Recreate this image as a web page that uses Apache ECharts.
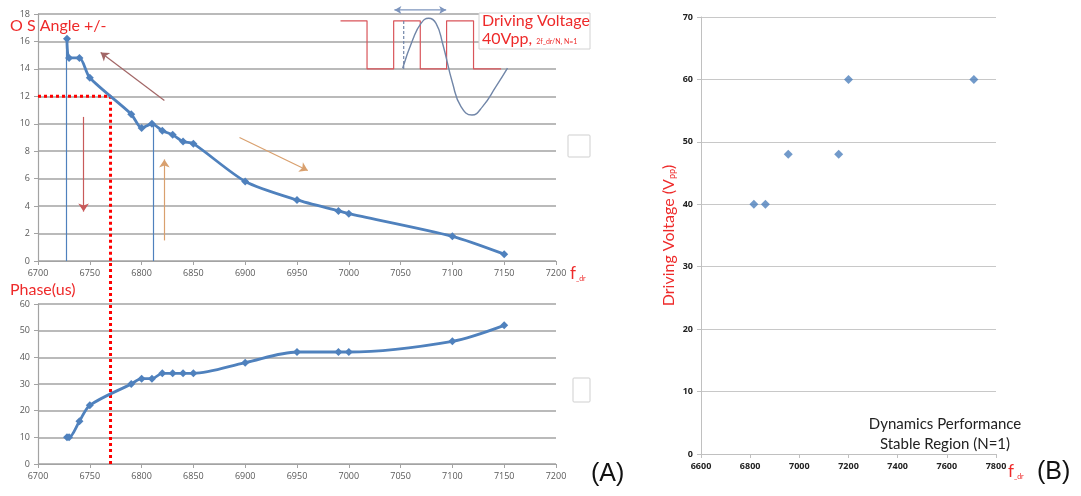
<!DOCTYPE html>
<html>
<head>
<meta charset="utf-8">
<script src="https://cdn.jsdelivr.net/npm/echarts@6/dist/echarts.min.js"></script>
<style>
html,body{margin:0;padding:0;background:#fff}
#main{width:1081px;height:496px}
</style>
</head>
<body>
<div id="main"></div>
<script>
// (A) O S angle and phase vs driving frequency
var freqA = [6728, 6730, 6740, 6750, 6790, 6800, 6810, 6820, 6830, 6840, 6850, 6900, 6950, 6990, 7000, 7100, 7150];
var angle = [16.2, 14.8, 14.8, 13.35, 10.7, 9.7, 10.0, 9.5, 9.2, 8.7, 8.55, 5.8, 4.45, 3.65, 3.45, 1.8, 0.5];
var phase = [10, 10, 16, 22, 30, 32, 32, 34, 34, 34, 34, 38, 42, 42, 42, 46, 52];
// (B) stable region
var freqB = [6815, 6862, 6955, 7160, 7200, 7710];
var voltB = [40, 40, 48, 48, 60, 60];
// inset sketch (drive square wave + response)
var squareX = [6992, 7017.6, 7017.6, 7043.3, 7043.3, 7069, 7069, 7094.4, 7094.4, 7120.4, 7120.4, 7147];
var squareY = [17.5, 17.5, 14, 14, 17.5, 17.5, 14, 14, 17.5, 17.5, 14, 14];
var sineX = [7052, 7061.6, 7069.7, 7077.1, 7084.2, 7090.5, 7100.2, 7108.3, 7118.9, 7129.1, 7142, 7153.2];
var sineY = [14.05, 16.1, 17.32, 17.69, 17.32, 15.87, 12.95, 11.25, 10.64, 11.25, 12.7, 14.05];
// operating point marked by the red dotted lines
var markFreq = 6770, markAngle = 12;

function zip(xs, ys) {
    return xs.map(function (x, i) { return [x, ys[i]]; });
}
function plain(v) { return String(v); }

var red = '#ee2a2a';
var blue = '#4f81bd';
var lblA = {fontSize: 9, color: '#595959', fontFamily: 'Open Sans', formatter: plain};
var lblB = {fontSize: 9, color: '#222', fontWeight: 'bold', fontFamily: 'Open Sans', formatter: plain};
var gridLineA = {lineStyle: {color: '#a3a3a3', width: 1.5}};
var axisLineA = {lineStyle: {color: '#a3a3a3', width: 1.2}};

function arrow(x1, y1, x2, y2, color, head) {
    return [
        {coord: [x1, y1], symbol: 'none', lineStyle: {color: color, width: 1.2, type: 'solid'}},
        {coord: [x2, y2], symbol: head ? 'arrow' : 'none'}
    ];
}

var myChart = echarts.init(document.getElementById('main'));
var option = {
    animation: false,
    backgroundColor: '#fff',
    grid: [
        {left: 38, top: 14, width: 518, height: 247},
        {left: 38, top: 304, width: 518, height: 160},
        {left: 701, top: 17, width: 295, height: 437}
    ],
    xAxis: [
        {gridIndex: 0, type: 'value', min: 6700, max: 7200, interval: 50,
            axisLine: axisLineA, axisTick: {show: true, length: 4, lineStyle: {color: '#a3a3a3'}},
            axisLabel: lblA, splitLine: {show: false}},
        {gridIndex: 1, type: 'value', min: 6700, max: 7200, interval: 50,
            axisLine: axisLineA, axisTick: {show: true, length: 4, lineStyle: {color: '#a3a3a3'}},
            axisLabel: lblA, splitLine: {show: false}},
        {gridIndex: 2, type: 'value', min: 6600, max: 7800, interval: 200,
            axisLine: {lineStyle: {color: '#c0c0c0'}}, axisTick: {show: true, length: 4, lineStyle: {color: '#c0c0c0'}},
            axisLabel: lblB, splitLine: {show: false}}
    ],
    yAxis: [
        {gridIndex: 0, type: 'value', min: 0, max: 18, interval: 2,
            axisLine: {show: true, lineStyle: {color: '#a3a3a3', width: 1.2}},
            axisTick: {show: true, length: 4, lineStyle: {color: '#a3a3a3'}},
            axisLabel: lblA, splitLine: gridLineA},
        {gridIndex: 1, type: 'value', min: 0, max: 60, interval: 10,
            axisLine: {show: true, lineStyle: {color: '#a3a3a3', width: 1.2}},
            axisTick: {show: true, length: 4, lineStyle: {color: '#a3a3a3'}},
            axisLabel: lblA, splitLine: gridLineA},
        {gridIndex: 2, type: 'value', min: 0, max: 70, interval: 10,
            axisLine: {show: true, lineStyle: {color: '#c0c0c0'}},
            axisTick: {show: true, length: 4, lineStyle: {color: '#c0c0c0'}},
            axisLabel: lblB,
            splitLine: {lineStyle: {color: '#c8c8c8', width: 1}},
            name: 'Driving Voltage (V{s|pp})',
            nameLocation: 'middle', nameRotate: 90, nameGap: 24,
            nameTextStyle: {color: red, fontSize: 16, fontFamily: 'Lato',
                rich: {s: {fontSize: 9, color: red, fontFamily: 'Lato', verticalAlign: 'bottom'}}}}
    ],
    series: [
        {
            name: 'angle', type: 'line', xAxisIndex: 0, yAxisIndex: 0,
            data: zip(freqA, angle), smooth: 0.25,
            symbol: 'diamond', symbolSize: 8,
            itemStyle: {color: blue}, lineStyle: {color: blue, width: 2.8},
            z: 5,
            markLine: {
                silent: true, animation: false, symbolSize: 8,
                label: {show: false},
                data: [
                    arrow(freqA[0] - 1, angle[0], freqA[0] - 1, 0, blue, false),
                    arrow(6811, 10, 6811, 0, blue, false),
                    arrow(6822, 11.7, 6760.5, 15.2, '#a26666', true),
                    arrow(6744, 10.5, 6744, 3.6, '#c85a5a', true),
                    arrow(6822, 1.5, 6822, 7.4, '#d9a06e', true),
                    arrow(6894.5, 9, 6960.4, 6.6, '#d9a06e', true)
                ]
            }
        },
        {
            name: 'mark top', type: 'line', xAxisIndex: 0, yAxisIndex: 0,
            data: [[6700, markAngle], [markFreq, markAngle], [markFreq, 0]],
            showSymbol: false, clip: false, z: 4,
            lineStyle: {color: '#ff0000', width: 3, type: [3, 3]}
        },
        {
            name: 'square', type: 'line', xAxisIndex: 0, yAxisIndex: 0,
            data: zip(squareX, squareY), showSymbol: false,
            lineStyle: {color: '#d9545a', width: 1.2}
        },
        {
            name: 'sine', type: 'line', xAxisIndex: 0, yAxisIndex: 0,
            data: zip(sineX, sineY), showSymbol: false, smooth: 0.5,
            lineStyle: {color: '#7186a8', width: 1.4}
        },
        {
            name: 'phase ref', type: 'line', xAxisIndex: 0, yAxisIndex: 0,
            data: [[7053, 14], [7053, 17.5]], showSymbol: false,
            lineStyle: {color: '#7186a8', width: 1.2, type: [3, 2]}
        },
        {
            name: 'period', type: 'line', xAxisIndex: 0, yAxisIndex: 0, clip: false,
            data: [
                {value: [7044, 18.3], symbol: 'arrow', symbolRotate: 90},
                {value: [7094, 18.3], symbol: 'arrow', symbolRotate: -90}
            ],
            symbolSize: [6, 7], itemStyle: {color: '#7c94bd'},
            lineStyle: {color: '#7c94bd', width: 1.2}
        },
        {
            name: 'phase', type: 'line', xAxisIndex: 1, yAxisIndex: 1,
            data: zip(freqA, phase), smooth: 0.3,
            symbol: 'diamond', symbolSize: 8,
            itemStyle: {color: blue}, lineStyle: {color: blue, width: 2.8}, z: 5
        },
        {
            name: 'mark bottom', type: 'line', xAxisIndex: 1, yAxisIndex: 1,
            data: [[markFreq, 0], [markFreq, 76.5]],
            showSymbol: false, clip: false, z: 4,
            lineStyle: {color: '#ff0000', width: 3, type: [3, 3]}
        },
        {
            name: 'stable', type: 'scatter', xAxisIndex: 2, yAxisIndex: 2,
            data: zip(freqB, voltB), symbol: 'diamond', symbolSize: 9,
            itemStyle: {color: blue}
        }
    ],
    graphic: [
        {type: 'text', left: 10, top: 18, style: {text: 'O S Angle +/-', fill: red, fontSize: 16, fontFamily: 'Lato'}},
        {type: 'text', left: 10, top: 282, style: {text: 'Phase(us)', fill: red, fontSize: 16, fontFamily: 'Lato'}},
        {type: 'text', left: 570, top: 265, style: {
            rich: {f: {fontSize: 17, fill: red, fontFamily: 'Lato'}, s: {fontSize: 7, fill: red, fontFamily: 'Lato', verticalAlign: 'bottom'}},
            text: '{f|f}{s|_dr}'}},
        {type: 'text', left: 1008, top: 463, style: {
            rich: {f: {fontSize: 17, fill: red, fontFamily: 'Lato'}, s: {fontSize: 7, fill: red, fontFamily: 'Lato', verticalAlign: 'bottom'}},
            text: '{f|f}{s|_dr}'}},
        {type: 'rect', shape: {x: 479, y: 13, width: 111, height: 36}, style: {fill: '#fff', stroke: '#d2d2d2', lineWidth: 1}, z: 10},
        {type: 'text', left: 482, top: 13, z: 11, style: {text: 'Driving Voltage', fill: red, fontSize: 16, fontFamily: 'Lato'}},
        {type: 'text', left: 482, top: 31, z: 11, style: {
            rich: {b: {fontSize: 16, fill: red, fontFamily: 'Lato'}, s: {fontSize: 7, fill: red, fontFamily: 'Lato', verticalAlign: 'bottom', padding: [0, 0, 2, 0]}},
            text: '{b|40Vpp, }{s|2f_dr/N, N=1}'}},
        {type: 'rect', shape: {x: 568, y: 135, width: 22, height: 22, r: 1}, style: {fill: '#fff', stroke: '#cfcfcf'}},
        {type: 'rect', shape: {x: 573, y: 378, width: 17, height: 24, r: 1}, style: {fill: '#fff', stroke: '#cfcfcf'}},
        {type: 'text', left: 591, top: 462, style: {text: '(A)', fill: '#111', fontSize: 25, fontFamily: 'Liberation Sans'}},
        {type: 'text', left: 1037, top: 460, style: {text: '(B)', fill: '#111', fontSize: 25, fontFamily: 'Liberation Sans'}},
        {type: 'text', x: 945, y: 414, style: {
            text: 'Dynamics Performance\nStable Region (N=1)', fill: '#222', fontSize: 15,
            fontFamily: 'Lato', align: 'center', lineHeight: 20}}
    ]
};
myChart.setOption(option);
</script>
</body>
</html>
